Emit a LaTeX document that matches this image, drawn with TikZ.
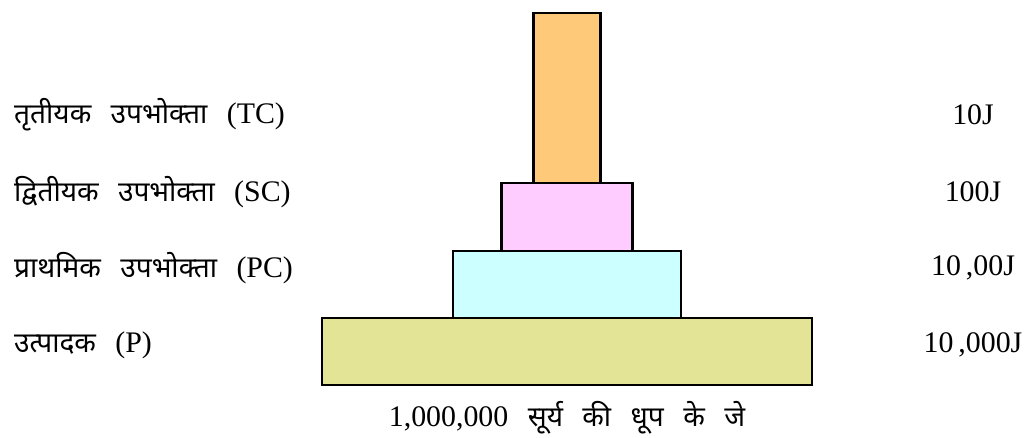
\documentclass[tikz,border=0pt]{standalone}
\usepackage{fontspec}
\setmainfont{Liberation Serif}
\newfontfamily\hindi[Script=Devanagari,Scale=0.94]{Noto Sans}
\usetikzlibrary{positioning}
\definecolor{tcorange}{RGB}{255,201,122}
\definecolor{scpink}{RGB}{255,204,255}
\definecolor{pccyan}{RGB}{204,255,255}
\definecolor{polive}{RGB}{228,228,150}
\newcommand{\wgap}{\hspace{0.65em}}

\begin{document}
\begin{tikzpicture}[x=0.02cm, y=-0.02cm, font=\fontsize{17}{20}\selectfont, tier/.style={rectangle, draw=black, line width=1.4pt, outer sep=0pt, inner sep=0pt}, level/.style={anchor=west}, energy/.style={anchor=center}]
\useasboundingbox (0,0) rectangle (1026,438);
% pyramid tiers, bottom up
\node[tier, fill=polive, minimum width=9.8cm, minimum height=1.34cm] (P) at (567,351.5) {};
\node[tier, fill=pccyan, minimum width=4.56cm, minimum height=1.34cm, above=0pt of P] (PC) {};
\node[tier, fill=scpink, minimum width=2.62cm, minimum height=1.36cm, above=0pt of PC] (SC) {};
\node[tier, fill=tcorange, minimum width=1.34cm, minimum height=3.4cm, above=0pt of SC] (TC) {};
% trophic level names
\node[level] (TClabel) at (8,115) {{\hindi तृतीयक}\wgap{\hindi उपभोक्ता}\wgap(TC)};
\node[level] (SClabel) at (8,192) {{\hindi द्वितीयक}\wgap{\hindi उपभोक्ता}\wgap(SC)};
\node[level] (PClabel) at (8,268) {{\hindi प्राथमिक}\wgap{\hindi उपभोक्ता}\wgap(PC)};
\node[level] (Plabel) at (8,345) {{\hindi उत्पादक}\wgap(P)};
% energy values
\node[energy] (TCenergy) at (973,115) {10J};
\node[energy] (SCenergy) at (973,192) {100J};
\node[energy] (PCenergy) at (973,268) {10\,,00J};
\node[energy] (Penergy) at (973,345) {10\,,000J};
% sunlight
\node[below=0.2cm of P] (sun) {1,000,000\wgap{\hindi सूर्य}\wgap{\hindi की}\wgap{\hindi धूप}\wgap{\hindi के}\wgap{\hindi जे}};
\end{tikzpicture}
\end{document}
